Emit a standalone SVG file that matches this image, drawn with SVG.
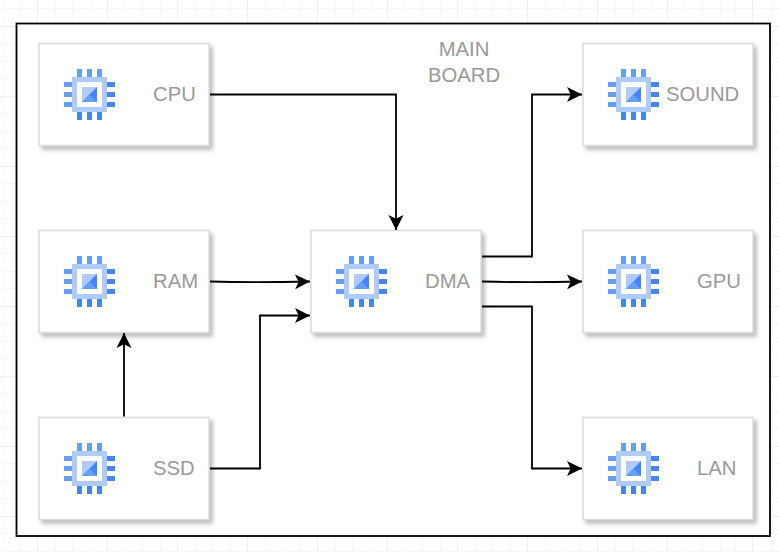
<svg xmlns="http://www.w3.org/2000/svg" width="779" height="552" viewBox="0 0 779 552">
<style>
.grid{stroke:#f7f7f7;stroke-width:1;fill:none}
.grid2{stroke:#efefef;stroke-width:1;fill:none}
.frame{fill:#fff;stroke:#000;stroke-width:1.8}
.card{fill:#fff;stroke:#dcdcdc;stroke-width:1.5;filter:url(#sh)}
.lbl{font-family:"Liberation Sans",Arial,sans-serif;font-size:20.3px;fill:#999}
.conn{fill:none;stroke:#000;stroke-width:1.8;marker-end:url(#arr)}
</style>
<defs>
<filter id="sh" x="-10%" y="-10%" width="125%" height="130%"><feDropShadow dx="3" dy="3.5" stdDeviation="2" flood-color="#808080" flood-opacity="0.55"/></filter>
<marker id="arr" markerUnits="userSpaceOnUse" markerWidth="18" markerHeight="18" refX="15" refY="9" orient="auto"><path d="M0,1.500 L15,9 L0,16.500 L3.700,9 Z" fill="#000"/></marker>
<g id="chip">
<rect x="72" y="77" width="35" height="35" fill="#aecbfa"/>
<rect x="77" y="82" width="25" height="25" fill="#fff"/>
<rect x="82" y="87" width="15" height="15" fill="#aecbfa"/>
<path d="M97,87 V102 H82 Z" fill="#4285f4"/>
<path d="M97,102 H82 L89.500,94.500 Z" fill="#669df6"/>
<g fill="#669df6">
<rect x="77" y="69" width="5" height="8"/><rect x="87" y="69" width="5" height="8"/><rect x="97" y="69" width="5" height="8"/>
<rect x="64" y="82" width="8" height="5"/><rect x="64" y="92" width="8" height="5"/><rect x="64" y="102" width="8" height="5"/>
</g>
<g fill="#4285f4">
<rect x="77" y="112" width="5" height="8"/><rect x="87" y="112" width="5" height="8"/><rect x="97" y="112" width="5" height="8"/>
<rect x="107" y="82" width="8" height="5"/><rect x="107" y="92" width="8" height="5"/><rect x="107" y="102" width="8" height="5"/>
</g>
</g>
</defs>
<rect width="779" height="552" fill="#fff"/>
<path class="grid" d="M2.500,0V552M20.500,0V552M55.500,0V552M72.500,0V552M90.500,0V552M125.500,0V552M142.500,0V552M160.500,0V552M195.500,0V552M212.500,0V552M230.500,0V552M265.500,0V552M282.500,0V552M300.500,0V552M335.500,0V552M352.500,0V552M370.500,0V552M405.500,0V552M422.500,0V552M440.500,0V552M475.500,0V552M492.500,0V552M510.500,0V552M545.500,0V552M562.500,0V552M580.500,0V552M615.500,0V552M632.500,0V552M650.500,0V552M685.500,0V552M702.500,0V552M720.500,0V552M735.500,0V552M772.500,0V552M0,8.500H779M0,43.500H779M0,61.500H779M0,78.500H779M0,113.500H779M0,131.500H779M0,148.500H779M0,183.500H779M0,201.500H779M0,218.500H779M0,253.500H779M0,271.500H779M0,288.500H779M0,323.500H779M0,341.500H779M0,358.500H779M0,393.500H779M0,411.500H779M0,428.500H779M0,463.500H779M0,481.500H779M0,498.500H779M0,533.500H779M0,551.500H779"/>
<path class="grid2" d="M37.500,0V552M107.500,0V552M177.500,0V552M247.500,0V552M317.500,0V552M387.500,0V552M457.500,0V552M527.500,0V552M597.500,0V552M667.500,0V552M752.500,0V552M0,26.500H779M0,96.500H779M0,166.500H779M0,236.500H779M0,306.500H779M0,376.500H779M0,446.500H779M0,516.500H779"/>
<rect id="main-board" class="frame" x="16.500" y="23.500" width="753.500" height="512.500"/>
<g id="cpu"><rect class="card" x="39" y="43.500" width="170" height="102"/><use href="#chip"/><text class="lbl" x="153" y="100.500">CPU</text></g>
<g id="ram"><rect class="card" x="39" y="230.500" width="170" height="102"/><use href="#chip" y="187"/><text class="lbl" x="153" y="287.500">RAM</text></g>
<g id="ssd"><rect class="card" x="39" y="417.500" width="170" height="102"/><use href="#chip" y="374"/><text class="lbl" x="153" y="474.500">SSD</text></g>
<g id="dma"><rect class="card" x="311" y="230.500" width="170" height="102"/><use href="#chip" x="272" y="187"/><text class="lbl" x="425" y="287.500">DMA</text></g>
<g id="sound"><rect class="card" x="583" y="43.500" width="170" height="102"/><use href="#chip" x="544"/><text class="lbl" x="666" y="100.500">SOUND</text></g>
<g id="gpu"><rect class="card" x="583" y="230.500" width="170" height="102"/><use href="#chip" x="544" y="187"/><text class="lbl" x="697" y="287.500">GPU</text></g>
<g id="lan"><rect class="card" x="583" y="417.500" width="170" height="102"/><use href="#chip" x="544" y="374"/><text class="lbl" x="697" y="474.500">LAN</text></g>
<g id="title"><text class="lbl" x="464" y="56" text-anchor="middle">MAIN</text><text class="lbl" x="464" y="82" text-anchor="middle">BOARD</text></g>
<g id="connectors">
<path class="conn" d="M210,94.500H396V230"/>
<path class="conn" d="M210,281.500C245,282.500 265,282.500 310,281.500"/>
<path class="conn" d="M210,468.500H260V315.500H310"/>
<path class="conn" d="M124,416.500V333"/>
<path class="conn" d="M482,256.500H532V94.500H582"/>
<path class="conn" d="M482,281.500C517,282.500 537,282.500 582,281.500"/>
<path class="conn" d="M482,306.500H532V468.500H582"/>
</g>
</svg>
